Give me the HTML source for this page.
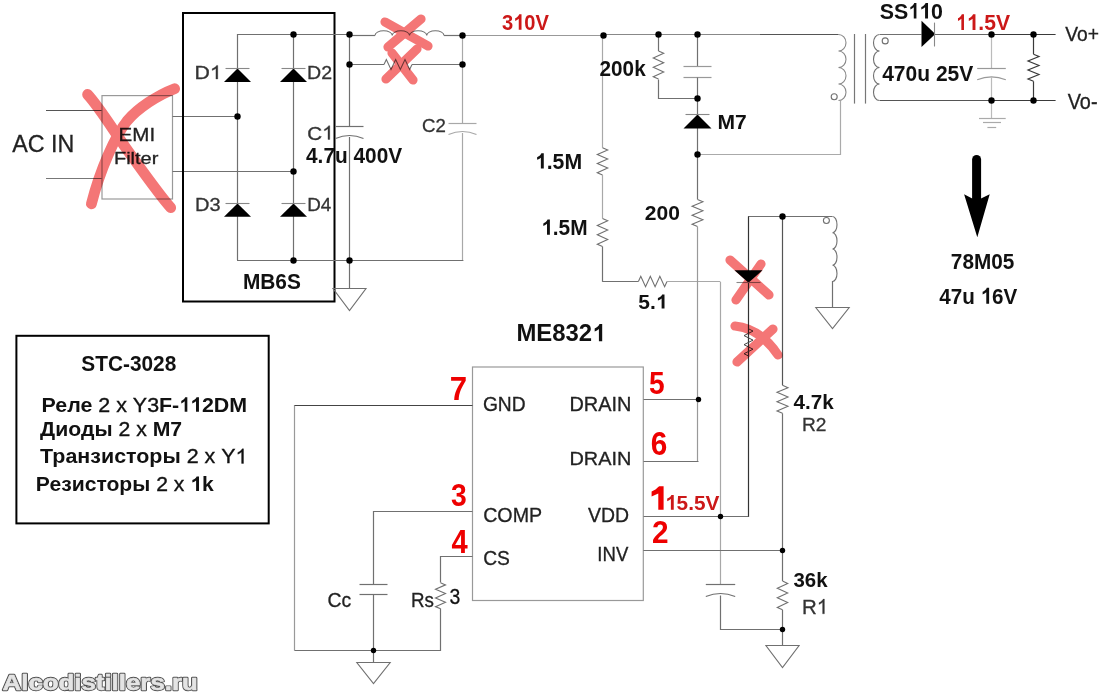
<!DOCTYPE html>
<html><head><meta charset="utf-8"><style>
html,body{margin:0;padding:0;background:#fff;}
svg{display:block;}
text{font-family:"Liberation Sans",sans-serif;}
.o{fill-opacity:0;stroke-opacity:0;}
</style></head><body>
<svg width="1115" height="698" viewBox="0 0 1115 698">
<rect width="1115" height="698" fill="#fff"/>
<line x1="46" y1="110.5" x2="102" y2="110.5" stroke="#555" stroke-width="1.2"/>
<line x1="46" y1="178.5" x2="102" y2="178.5" stroke="#777" stroke-width="1.2"/>
<rect x="102" y="95.6" width="70.5" height="103.4" fill="none" stroke="#999" stroke-width="1.2"/>
<text x="12.20" y="152.00" font-size="24.60" font-weight="normal" fill="#222" stroke="#222" stroke-width="0.3" textLength="62.10" lengthAdjust="spacingAndGlyphs">AC IN</text>
<text x="118.59" y="141.00" font-size="18.92" font-weight="normal" fill="#222" stroke="#222" stroke-width="0.3" textLength="36.56" lengthAdjust="spacingAndGlyphs">EMI</text>
<text x="113.94" y="164.00" font-size="16.75" font-weight="normal" fill="#222" stroke="#222" stroke-width="0.3" textLength="44.46" lengthAdjust="spacingAndGlyphs">Filter</text>
<line x1="172.5" y1="116.5" x2="237" y2="116.5" stroke="#707070" stroke-width="1.2"/>
<line x1="172.5" y1="171.5" x2="293" y2="171.5" stroke="#707070" stroke-width="1.2"/>
<rect x="183" y="13" width="151.5" height="288.5" fill="none" stroke="#000" stroke-width="2"/>
<line x1="237" y1="34.5" x2="293.7" y2="34.5" stroke="#707070" stroke-width="1.2"/>
<line x1="293.7" y1="34.5" x2="349.5" y2="34.5" stroke="#707070" stroke-width="1.2"/>
<line x1="237.5" y1="34" x2="237.5" y2="260" stroke="#707070" stroke-width="1.2"/>
<line x1="293.5" y1="34" x2="293.5" y2="260" stroke="#707070" stroke-width="1.2"/>
<line x1="237" y1="260.5" x2="463.4" y2="260.5" stroke="#707070" stroke-width="1.2"/>
<polygon points="224.0,82 251.0,82 237.5,68.4" fill="#000"/>
<line x1="225.5" y1="68.5" x2="249.5" y2="68.5" stroke="#888" stroke-width="1.1"/>
<polygon points="280.0,82 307.0,82 293.5,68.4" fill="#000"/>
<line x1="281.5" y1="68.5" x2="305.5" y2="68.5" stroke="#888" stroke-width="1.1"/>
<polygon points="224.0,216.7 251.0,216.7 237.5,203.4" fill="#000"/>
<line x1="225.5" y1="203.5" x2="249.5" y2="203.5" stroke="#888" stroke-width="1.1"/>
<polygon points="280.0,216.7 307.0,216.7 293.5,203.4" fill="#000"/>
<line x1="281.5" y1="203.5" x2="305.5" y2="203.5" stroke="#888" stroke-width="1.1"/>
<text id="q0" x="194.54" y="79.00" font-size="18.92" font-weight="normal" fill="#333" stroke="#333" stroke-width="0.3" textLength="27.16" lengthAdjust="spacingAndGlyphs">D<tspan class="o">1</tspan></text>
<text x="307.07" y="79.00" font-size="18.92" font-weight="normal" fill="#333" stroke="#333" stroke-width="0.3" textLength="25.02" lengthAdjust="spacingAndGlyphs">D2</text>
<text x="195.04" y="211.00" font-size="18.92" font-weight="normal" fill="#333" stroke="#333" stroke-width="0.3" textLength="25.57" lengthAdjust="spacingAndGlyphs">D3</text>
<text x="307.23" y="211.00" font-size="18.92" font-weight="normal" fill="#333" stroke="#333" stroke-width="0.3" textLength="24.04" lengthAdjust="spacingAndGlyphs">D4</text>
<text x="242.90" y="288.60" font-size="21.19" font-weight="bold" fill="#111" textLength="57.95" lengthAdjust="spacingAndGlyphs">MB6S</text>
<line x1="349.5" y1="34" x2="349.5" y2="126.8" stroke="#707070" stroke-width="1.2"/>
<line x1="335.5" y1="126.5" x2="363.5" y2="126.5" stroke="#707070" stroke-width="1.2"/>
<path d="M335.5,138.5 Q349.5,132.5 363.5,138.5" stroke="#707070" stroke-width="1.2" fill="none" />
<line x1="349.5" y1="137" x2="349.5" y2="288" stroke="#707070" stroke-width="1.2"/>
<polygon points="333.0,288.5 366.0,288.5 349.5,310.5" fill="none" stroke="#707070" stroke-width="1.1"/>
<text id="q1" x="307.23" y="139.50" font-size="19.20" font-weight="normal" fill="#333" stroke="#333" stroke-width="0.3" textLength="26.35" lengthAdjust="spacingAndGlyphs">C<tspan class="o">1</tspan></text>
<text x="306.00" y="163.30" font-size="22.61" font-weight="bold" fill="#111" textLength="96.20" lengthAdjust="spacingAndGlyphs">4.7u 400V</text>
<line x1="349.5" y1="35.5" x2="375" y2="35.5" stroke="#707070" stroke-width="1.2"/>
<path d="M375,35.5 a8.625,4.8 0 0 1 17.25,0 a8.625,4.8 0 0 1 17.25,0 a8.625,4.8 0 0 1 17.25,0 a8.625,4.8 0 0 1 17.25,0" stroke="#707070" stroke-width="1.1" fill="none" />
<line x1="444" y1="35.5" x2="462.8" y2="35.5" stroke="#707070" stroke-width="1.2"/>
<line x1="349.5" y1="64.5" x2="384" y2="64.5" stroke="#707070" stroke-width="1.2"/>
<polyline points="384,64.5 386.3333333333333,59.5 391.0,69.5 395.6666666666667,59.5 400.3333333333333,69.5 405.0,59.5 409.6666666666667,69.5 412,64.5" stroke="#707070" stroke-width="1.1" fill="none" stroke-linejoin="miter"/>
<line x1="412" y1="64.5" x2="462.8" y2="64.5" stroke="#707070" stroke-width="1.2"/>
<line x1="462.5" y1="35" x2="462.5" y2="123" stroke="#a8a8a8" stroke-width="1.2"/>
<line x1="448.5" y1="123.5" x2="476.5" y2="123.5" stroke="#a8a8a8" stroke-width="1.2"/>
<path d="M448.5,134.5 Q462.5,128.5 476.5,134.5" stroke="#a8a8a8" stroke-width="1.2" fill="none" />
<line x1="462.5" y1="133" x2="462.5" y2="260" stroke="#a8a8a8" stroke-width="1.2"/>
<text x="422.13" y="132.40" font-size="18.49" font-weight="normal" fill="#333" stroke="#333" stroke-width="0.3" textLength="23.83" lengthAdjust="spacingAndGlyphs">C2</text>
<line x1="462.8" y1="35.5" x2="603" y2="35.5" stroke="#999" stroke-width="1.2"/>
<line x1="603" y1="34.5" x2="760" y2="34.5" stroke="#888" stroke-width="1.2"/>
<line x1="760" y1="34.5" x2="838.6" y2="34.5" stroke="#555" stroke-width="1.2"/>
<text id="q2" x="501.89" y="29.70" font-size="21.33" font-weight="bold" fill="#cc1818" textLength="47.02" lengthAdjust="spacingAndGlyphs">3<tspan class="o">1</tspan>0V</text>
<line x1="602.5" y1="35" x2="602.5" y2="147.7" stroke="#a8a8a8" stroke-width="1.2"/>
<polyline points="602.5,147.7 607.7,149.96666666666667 597.3,154.5 607.7,159.03333333333333 597.3,163.56666666666666 607.7,168.1 597.3,172.63333333333333 602.5,174.9" stroke="#707070" stroke-width="1.1" fill="none" stroke-linejoin="miter"/>
<line x1="602.5" y1="174.9" x2="602.5" y2="218.4" stroke="#a8a8a8" stroke-width="1.2"/>
<polyline points="602.5,218.4 607.7,220.74166666666667 597.3,225.425 607.7,230.10833333333335 597.3,234.79166666666666 607.7,239.475 597.3,244.15833333333333 602.5,246.5" stroke="#707070" stroke-width="1.1" fill="none" stroke-linejoin="miter"/>
<line x1="602.5" y1="246.5" x2="602.5" y2="281.8" stroke="#707070" stroke-width="1.2"/>
<line x1="602.5" y1="281.5" x2="638.4" y2="281.5" stroke="#707070" stroke-width="1.2"/>
<polyline points="638.4,281.5 640.7833333333333,276.3 645.55,286.7 650.3166666666666,276.3 655.0833333333334,286.7 659.85,276.3 664.6166666666667,286.7 667,281.5" stroke="#707070" stroke-width="1.1" fill="none" stroke-linejoin="miter"/>
<line x1="667" y1="281.5" x2="720.2" y2="281.5" stroke="#a8a8a8" stroke-width="1.2"/>
<line x1="720.5" y1="281.8" x2="720.5" y2="584.4" stroke="#a8a8a8" stroke-width="1.2"/>
<text id="q3" x="534.90" y="168.60" font-size="21.19" font-weight="bold" fill="#111" textLength="47.20" lengthAdjust="spacingAndGlyphs"><tspan class="o">1</tspan>.5M</text>
<text id="q4" x="541.14" y="234.80" font-size="21.19" font-weight="bold" fill="#111" textLength="46.44" lengthAdjust="spacingAndGlyphs"><tspan class="o">1</tspan>.5M</text>
<text id="q5" x="638.27" y="308.50" font-size="19.34" font-weight="bold" fill="#111" textLength="29.12" lengthAdjust="spacingAndGlyphs">5.<tspan class="o">1</tspan></text>
<line x1="658.5" y1="34.5" x2="658.5" y2="51" stroke="#707070" stroke-width="1.2"/>
<polyline points="658.5,51 663.7,53.333333333333336 653.3,58.0 663.7,62.666666666666664 653.3,67.33333333333333 663.7,72.0 653.3,76.66666666666667 658.5,79" stroke="#707070" stroke-width="1.1" fill="none" stroke-linejoin="miter"/>
<polyline points="658.5,79.5 658.5,98.5 697.5,98.5" stroke="#707070" stroke-width="1.2" fill="none" stroke-linejoin="miter"/>
<text x="599.55" y="76.20" font-size="22.20" font-weight="bold" fill="#111" textLength="46.12" lengthAdjust="spacingAndGlyphs">200k</text>
<line x1="697.5" y1="34.3" x2="697.5" y2="66.3" stroke="#707070" stroke-width="1.2"/>
<line x1="683.5" y1="66.5" x2="711.5" y2="66.5" stroke="#999" stroke-width="1.2"/>
<line x1="683.5" y1="77.5" x2="711.5" y2="77.5" stroke="#999" stroke-width="1.2"/>
<line x1="697.5" y1="77.5" x2="697.5" y2="155" stroke="#707070" stroke-width="1.2"/>
<polygon points="683.5,128.4 711.5,128.4 697.5,114.5" fill="#000"/>
<line x1="685.5" y1="114.5" x2="709.5" y2="114.5" stroke="#888" stroke-width="1.1"/>
<text x="717.38" y="129.10" font-size="20.91" font-weight="bold" fill="#111" textLength="29.27" lengthAdjust="spacingAndGlyphs">M7</text>
<polyline points="697.5,154.5 840.5,154.5 840.5,100.5" stroke="#aaa" stroke-width="1.2" fill="none" stroke-linejoin="miter"/>
<line x1="697.5" y1="155" x2="697.5" y2="199.4" stroke="#707070" stroke-width="1.2"/>
<polyline points="697.5,199.4 702.9,201.66666666666669 692.1,206.2 702.9,210.73333333333335 692.1,215.26666666666665 702.9,219.8 692.1,224.33333333333331 697.5,226.6" stroke="#707070" stroke-width="1.1" fill="none" stroke-linejoin="miter"/>
<line x1="697.5" y1="226.6" x2="697.5" y2="461" stroke="#999" stroke-width="1.2"/>
<text x="644.74" y="219.80" font-size="20.05" font-weight="bold" fill="#111" textLength="35.11" lengthAdjust="spacingAndGlyphs">200</text>
<path d="M838.5,34.5 a7.5,8.25 0 0 1 0,16.5 a7.5,8.25 0 0 1 0,16.5 a7.5,8.25 0 0 1 0,16.5 a7.5,8.25 0 0 1 0,16.5" stroke="#888" stroke-width="1.1" fill="none" />
<circle cx="834.2" cy="96.7" r="3" fill="none" stroke="#707070" stroke-width="1.1"/>
<line x1="854.5" y1="34" x2="854.5" y2="103.6" stroke="#777" stroke-width="1.2"/>
<line x1="865.5" y1="34" x2="865.5" y2="103.6" stroke="#777" stroke-width="1.2"/>
<path d="M879.5,34.5 a6,8.25 0 0 0 0,16.5 a6,8.25 0 0 0 0,16.5 a6,8.25 0 0 0 0,16.5 a6,8.25 0 0 0 0,16.5" stroke="#707070" stroke-width="1.1" fill="none" />
<circle cx="885.2" cy="40.9" r="3" fill="none" stroke="#707070" stroke-width="1.1"/>
<line x1="879.7" y1="34.5" x2="921.5" y2="34.5" stroke="#707070" stroke-width="1.2"/>
<polygon points="921.5,20.7 921.5,47.1 935.3,33.9" fill="#000"/>
<line x1="934.5" y1="22.6" x2="934.5" y2="46.5" stroke="#888" stroke-width="1.1"/>
<line x1="935" y1="34.5" x2="991" y2="34.5" stroke="#666" stroke-width="1.2"/>
<line x1="991" y1="34.5" x2="1055.6" y2="34.5" stroke="#3a3a3a" stroke-width="1.2"/>
<line x1="879.7" y1="100.5" x2="991" y2="100.5" stroke="#555" stroke-width="1.2"/>
<line x1="991" y1="100.5" x2="1055.6" y2="100.5" stroke="#3a3a3a" stroke-width="1.2"/>
<line x1="991.5" y1="34" x2="991.5" y2="68.2" stroke="#bbb" stroke-width="1.2"/>
<line x1="977.2" y1="68.5" x2="1005.8" y2="68.5" stroke="#999" stroke-width="1.2"/>
<path d="M977.2,79.8 Q991.5,73.8 1005.8,79.8" stroke="#999" stroke-width="1.2" fill="none" />
<line x1="991.5" y1="77" x2="991.5" y2="118" stroke="#bbb" stroke-width="1.2"/>
<line x1="979" y1="118.5" x2="1005.7" y2="118.5" stroke="#aaa" stroke-width="1.2"/>
<line x1="983" y1="122.5" x2="1001" y2="122.5" stroke="#aaa" stroke-width="1.2"/>
<line x1="987.4" y1="127.5" x2="996.2" y2="127.5" stroke="#aaa" stroke-width="1.2"/>
<line x1="1033.5" y1="34" x2="1033.5" y2="54.2" stroke="#3a3a3a" stroke-width="1.2"/>
<polyline points="1033.5,54.2 1039.0,56.458333333333336 1028.0,60.975 1039.0,65.49166666666667 1028.0,70.00833333333333 1039.0,74.525 1028.0,79.04166666666666 1033.5,81.3" stroke="#3a3a3a" stroke-width="1.2" fill="none" stroke-linejoin="miter"/>
<line x1="1033.5" y1="81.3" x2="1033.5" y2="100.5" stroke="#3a3a3a" stroke-width="1.2"/>
<text id="q6" x="879.87" y="18.60" font-size="21.76" font-weight="bold" fill="#111" textLength="63.00" lengthAdjust="spacingAndGlyphs">SS<tspan class="o">1</tspan><tspan class="o">1</tspan>0</text>
<text id="q7" x="956.01" y="30.00" font-size="21.76" font-weight="bold" fill="#cc1818" textLength="54.09" lengthAdjust="spacingAndGlyphs"><tspan class="o">1</tspan><tspan class="o">1</tspan>.5V</text>
<text x="882.20" y="80.80" font-size="21.48" font-weight="bold" fill="#111" textLength="91.10" lengthAdjust="spacingAndGlyphs">470u 25V</text>
<text x="1065.20" y="40.90" font-size="20.20" font-weight="normal" fill="#222" stroke="#222" stroke-width="0.3" textLength="33.71" lengthAdjust="spacingAndGlyphs">Vo+</text>
<text x="1067.70" y="108.90" font-size="21.62" font-weight="normal" fill="#222" stroke="#222" stroke-width="0.3" textLength="29.82" lengthAdjust="spacingAndGlyphs">Vo-</text>
<path d="M976.6,159.5 L976.6,200" stroke="#000" stroke-width="9" fill="none" stroke-linecap="round"/>
<polygon points="964.1,194.3 972.2,198.6 981,198.6 989.7,194.3 977.3,237.3" fill="#000"/>
<text x="950.85" y="268.90" font-size="22.04" font-weight="bold" fill="#111" textLength="63.47" lengthAdjust="spacingAndGlyphs">78M05</text>
<text id="q8" x="939.20" y="303.70" font-size="22.33" font-weight="bold" fill="#111" textLength="78.00" lengthAdjust="spacingAndGlyphs">47u <tspan class="o">1</tspan>6V</text>
<line x1="748" y1="216.5" x2="832.4" y2="216.5" stroke="#707070" stroke-width="1.2"/>
<line x1="748.5" y1="216.4" x2="748.5" y2="517" stroke="#333" stroke-width="1.2"/>
<line x1="782.5" y1="216.4" x2="782.5" y2="385.3" stroke="#555" stroke-width="1.2"/>
<polyline points="782.5,385.3 788.0,387.6333333333333 777.0,392.3 788.0,396.9666666666667 777.0,401.6333333333333 788.0,406.3 777.0,410.9666666666667 782.5,413.3" stroke="#707070" stroke-width="1.1" fill="none" stroke-linejoin="miter"/>
<line x1="782.5" y1="413.3" x2="782.5" y2="581" stroke="#707070" stroke-width="1.2"/>
<polyline points="782.5,581 787.7,583.4 777.3,588.2 787.7,593.0 777.3,597.8 787.7,602.5999999999999 777.3,607.4 782.5,609.8" stroke="#707070" stroke-width="1.1" fill="none" stroke-linejoin="miter"/>
<line x1="782.5" y1="609.8" x2="782.5" y2="645.5" stroke="#707070" stroke-width="1.2"/>
<polygon points="765.9,645.5 799.1,645.5 782.5,667.7" fill="none" stroke="#707070" stroke-width="1.1"/>
<path d="M832.5,216.5 a4.5,8.125 0 0 1 0,16.25 a4.5,8.125 0 0 1 0,16.25 a4.5,8.125 0 0 1 0,16.25 a4.5,8.125 0 0 1 0,16.25" stroke="#707070" stroke-width="1.1" fill="none" />
<circle cx="826.4" cy="220.5" r="3" fill="none" stroke="#707070" stroke-width="1.1"/>
<line x1="832.5" y1="281" x2="832.5" y2="307.6" stroke="#707070" stroke-width="1.2"/>
<polygon points="815.8,307.5 849.2,307.5 832.5,328.7" fill="none" stroke="#707070" stroke-width="1.1"/>
<polygon points="734.5,270.3 762.5,270.3 748.5,282.8" fill="#000"/>
<line x1="736.5" y1="282.5" x2="760.5" y2="282.5" stroke="#888" stroke-width="1.1"/>
<polyline points="748.5,328.8 753.0,331.06666666666666 744.0,335.6 753.0,340.1333333333333 744.0,344.6666666666667 753.0,349.2 744.0,353.73333333333335 748.5,356" stroke="#444" stroke-width="1.0" fill="none" stroke-linejoin="miter"/>
<text x="793.50" y="408.70" font-size="21.11" font-weight="bold" fill="#111" textLength="40.17" lengthAdjust="spacingAndGlyphs">4.7k</text>
<text x="802.00" y="430.50" font-size="19.06" font-weight="normal" fill="#333" stroke="#333" stroke-width="0.3" textLength="24.47" lengthAdjust="spacingAndGlyphs">R2</text>
<text x="793.48" y="587.00" font-size="20.97" font-weight="bold" fill="#111" textLength="34.09" lengthAdjust="spacingAndGlyphs">36k</text>
<text id="q9" x="802.00" y="613.80" font-size="20.48" font-weight="normal" fill="#333" stroke="#333" stroke-width="0.3" textLength="26.15" lengthAdjust="spacingAndGlyphs">R<tspan class="o">1</tspan></text>
<rect x="472.5" y="367" width="170.8" height="233.5" fill="none" stroke="#999" stroke-width="1.2"/>
<text id="q10" x="516.40" y="341.20" font-size="23.75" font-weight="bold" fill="#111" textLength="89.10" lengthAdjust="spacingAndGlyphs">ME832<tspan class="o">1</tspan></text>
<polyline points="294.5,650.5 294.5,405.5 472.5,405.5" stroke="#999" stroke-width="1.2" fill="none" stroke-linejoin="miter"/>
<line x1="294.7" y1="405.5" x2="472.5" y2="405.5" stroke="#444" stroke-width="1.2"/>
<polyline points="294.5,650.5 440.5,650.5 440.5,608.5" stroke="#707070" stroke-width="1.2" fill="none" stroke-linejoin="miter"/>
<polyline points="440.5,582.7 445.5,584.875 435.5,589.225 445.5,593.575 435.5,597.925 445.5,602.275 435.5,606.625 440.5,608.8" stroke="#707070" stroke-width="1.1" fill="none" stroke-linejoin="miter"/>
<polyline points="440.5,582.5 440.5,556.5 472.5,556.5" stroke="#707070" stroke-width="1.2" fill="none" stroke-linejoin="miter"/>
<polyline points="472.5,511.5 373.5,511.5 373.5,584.5" stroke="#707070" stroke-width="1.2" fill="none" stroke-linejoin="miter"/>
<line x1="359.5" y1="584.5" x2="387.5" y2="584.5" stroke="#707070" stroke-width="1.2"/>
<line x1="359.5" y1="594.5" x2="387.5" y2="594.5" stroke="#707070" stroke-width="1.2"/>
<line x1="373.5" y1="594.7" x2="373.5" y2="662.7" stroke="#707070" stroke-width="1.2"/>
<polygon points="356.8,662.5 390.2,662.5 373.5,683.7" fill="none" stroke="#707070" stroke-width="1.1"/>
<polyline points="643.5,399.5 698.5,399.5" stroke="#707070" stroke-width="1.2" fill="none" stroke-linejoin="miter"/>
<polyline points="643.5,461.5 698.5,461.5" stroke="#707070" stroke-width="1.2" fill="none" stroke-linejoin="miter"/>
<polyline points="643.5,516.5 748.5,516.5" stroke="#707070" stroke-width="1.2" fill="none" stroke-linejoin="miter"/>
<line x1="643.3" y1="550.5" x2="782.2" y2="550.5" stroke="#707070" stroke-width="1.2"/>
<line x1="705.8" y1="584.5" x2="735.2" y2="584.5" stroke="#707070" stroke-width="1.2"/>
<path d="M705.8,596.5 Q720.5,590.5 735.2,596.5" stroke="#707070" stroke-width="1.2" fill="none" />
<polyline points="720.5,595.5 720.5,629.5 782.5,629.5" stroke="#707070" stroke-width="1.2" fill="none" stroke-linejoin="miter"/>
<text x="482.90" y="410.50" font-size="19.48" font-weight="normal" fill="#222" stroke="#222" stroke-width="0.3" textLength="42.77" lengthAdjust="spacingAndGlyphs">GND</text>
<text x="569.45" y="410.50" font-size="19.63" font-weight="normal" fill="#222" stroke="#222" stroke-width="0.3" textLength="61.88" lengthAdjust="spacingAndGlyphs">DRAIN</text>
<text x="569.45" y="465.30" font-size="19.20" font-weight="normal" fill="#222" stroke="#222" stroke-width="0.3" textLength="61.88" lengthAdjust="spacingAndGlyphs">DRAIN</text>
<text x="483.18" y="522.20" font-size="20.48" font-weight="normal" fill="#222" stroke="#222" stroke-width="0.3" textLength="58.95" lengthAdjust="spacingAndGlyphs">COMP</text>
<text x="483.20" y="565.00" font-size="20.91" font-weight="normal" fill="#222" stroke="#222" stroke-width="0.3" textLength="26.71" lengthAdjust="spacingAndGlyphs">CS</text>
<text x="588.00" y="522.30" font-size="20.48" font-weight="normal" fill="#222" stroke="#222" stroke-width="0.3" textLength="41.07" lengthAdjust="spacingAndGlyphs">VDD</text>
<text x="597.35" y="560.80" font-size="20.34" font-weight="normal" fill="#222" stroke="#222" stroke-width="0.3" textLength="30.96" lengthAdjust="spacingAndGlyphs">INV</text>
<text x="327.59" y="606.50" font-size="20.48" font-weight="normal" fill="#222" stroke="#222" stroke-width="0.3" textLength="23.71" lengthAdjust="spacingAndGlyphs">Cc</text>
<text x="410.93" y="606.50" font-size="20.48" font-weight="normal" fill="#222" stroke="#222" stroke-width="0.3" textLength="22.95" lengthAdjust="spacingAndGlyphs">Rs</text>
<text x="449.39" y="603.90" font-size="21.33" font-weight="normal" fill="#111" stroke="#111" stroke-width="0.3" textLength="10.79" lengthAdjust="spacingAndGlyphs">3</text>
<text x="449.83" y="399.50" font-size="33.00" font-weight="bold" fill="#ee0000" textLength="17.34" lengthAdjust="spacingAndGlyphs">7</text>
<text x="649.06" y="394.00" font-size="32.14" font-weight="bold" fill="#ee0000" textLength="15.64" lengthAdjust="spacingAndGlyphs">5</text>
<text x="650.87" y="454.50" font-size="32.43" font-weight="bold" fill="#ee0000" textLength="16.57" lengthAdjust="spacingAndGlyphs">6</text>
<text x="450.96" y="506.30" font-size="32.28" font-weight="bold" fill="#ee0000" textLength="15.75" lengthAdjust="spacingAndGlyphs">3</text>
<text x="451.40" y="552.60" font-size="33.00" font-weight="bold" fill="#ee0000" textLength="16.21" lengthAdjust="spacingAndGlyphs">4</text>
<polygon points="659.3,486.3 663.6,486.3 663.6,509.8 658.3,509.8 658.3,493.6 651.6,496.6 651.6,491.6 655.5,489.4 658.2,486.9" fill="#ee0000"/>
<text id="q11" x="665.05" y="509.70" font-size="20.62" font-weight="bold" fill="#cc1818" textLength="54.35" lengthAdjust="spacingAndGlyphs"><tspan class="o">1</tspan>5.5V</text>
<text x="652.07" y="543.30" font-size="32.14" font-weight="bold" fill="#ee0000" textLength="16.57" lengthAdjust="spacingAndGlyphs">2</text>
<rect x="16.4" y="335.8" width="252.3" height="187.6" fill="none" stroke="#000" stroke-width="2"/>
<text x="81.27" y="371.10" font-size="21.62" font-weight="bold" fill="#111" textLength="95.05" lengthAdjust="spacingAndGlyphs">STC-3028</text>
<text id="q12" x="41.56" y="411.8" font-size="20.3" fill="#111" textLength="205.55" lengthAdjust="spacingAndGlyphs" xml:space="preserve"><tspan font-weight="bold">Реле </tspan><tspan font-weight="normal" stroke="#111" stroke-width="0.35">2 х Y3</tspan><tspan font-weight="bold">F-<tspan class="o">1</tspan><tspan class="o">1</tspan>2DM</tspan></text>
<text x="40.10" y="436.1" font-size="20.3" fill="#111" textLength="142.06" lengthAdjust="spacingAndGlyphs" xml:space="preserve"><tspan font-weight="bold">Диоды </tspan><tspan font-weight="normal" stroke="#111" stroke-width="0.35">2 х </tspan><tspan font-weight="bold">М7</tspan></text>
<text id="q13" x="40.10" y="463.4" font-size="20.3" fill="#111" textLength="207.33" lengthAdjust="spacingAndGlyphs" xml:space="preserve"><tspan font-weight="bold">Транзисторы </tspan><tspan font-weight="normal" stroke="#111" stroke-width="0.35">2 х Y<tspan class="o">1</tspan></tspan></text>
<text id="q14" x="35.88" y="491" font-size="20.3" fill="#111" textLength="177.79" lengthAdjust="spacingAndGlyphs" xml:space="preserve"><tspan font-weight="bold">Резисторы </tspan><tspan font-weight="normal" stroke="#111" stroke-width="0.35">2 х </tspan><tspan font-weight="bold"><tspan class="o">1</tspan>k</tspan></text>
<text x="2.60" y="689.70" font-size="22.4" font-weight="bold" fill="#e4e4e4" stroke="#505050" stroke-width="2.4" stroke-linejoin="round" textLength="195.16" lengthAdjust="spacingAndGlyphs">Alcodistillers.ru</text>
<text x="2.60" y="689.70" font-size="22.4" font-weight="bold" fill="#e4e4e4" stroke="#e4e4e4" stroke-width="0.6" stroke-linejoin="round" textLength="195.16" lengthAdjust="spacingAndGlyphs">Alcodistillers.ru</text>
<path d="M763,0 L583,0 L583,1147 Q518,1085 412,1023 Q306,961 222,930 L222,1104 Q373,1175 486,1276 Q599,1377 646,1472 L763,1472 Z" fill="#333" stroke="#333" stroke-width="32.5" transform="translate(209.88,79.00) scale(0.01037,-0.00924)"/>
<path d="M763,0 L583,0 L583,1147 Q518,1085 412,1023 Q306,961 222,930 L222,1104 Q373,1175 486,1276 Q599,1377 646,1472 L763,1472 Z" fill="#333" stroke="#333" stroke-width="32.0" transform="translate(322.12,139.50) scale(0.01006,-0.00938)"/>
<path d="M856,0 L575,0 L575,1059 Q421,915 212,846 L212,1101 Q322,1137 451,1237 Q580,1337 628,1472 L856,1472 Z" fill="#cc1818" transform="translate(513.09,29.70) scale(0.00984,-0.01042)"/>
<path d="M856,0 L575,0 L575,1059 Q421,915 212,846 L212,1101 Q322,1137 451,1237 Q580,1337 628,1472 L856,1472 Z" fill="#111" transform="translate(534.90,168.60) scale(0.01037,-0.01035)"/>
<path d="M856,0 L575,0 L575,1059 Q421,915 212,846 L212,1101 Q322,1137 451,1237 Q580,1337 628,1472 L856,1472 Z" fill="#111" transform="translate(541.14,234.80) scale(0.01021,-0.01035)"/>
<path d="M856,0 L575,0 L575,1059 Q421,915 212,846 L212,1101 Q322,1137 451,1237 Q580,1337 628,1472 L856,1472 Z" fill="#111" transform="translate(655.74,308.50) scale(0.01023,-0.00944)"/>
<path d="M856,0 L575,0 L575,1059 Q421,915 212,846 L212,1101 Q322,1137 451,1237 Q580,1337 628,1472 L856,1472 Z" fill="#111" transform="translate(908.37,18.60) scale(0.00940,-0.01063)"/>
<path d="M856,0 L575,0 L575,1059 Q421,915 212,846 L212,1101 Q322,1137 451,1237 Q580,1337 628,1472 L856,1472 Z" fill="#111" transform="translate(919.08,18.60) scale(0.01044,-0.01063)"/>
<path d="M856,0 L575,0 L575,1059 Q421,915 212,846 L212,1101 Q322,1137 451,1237 Q580,1337 628,1472 L856,1472 Z" fill="#cc1818" transform="translate(956.01,30.00) scale(0.00930,-0.01063)"/>
<path d="M856,0 L575,0 L575,1059 Q421,915 212,846 L212,1101 Q322,1137 451,1237 Q580,1337 628,1472 L856,1472 Z" fill="#cc1818" transform="translate(966.61,30.00) scale(0.01033,-0.01063)"/>
<path d="M856,0 L575,0 L575,1059 Q421,915 212,846 L212,1101 Q322,1137 451,1237 Q580,1337 628,1472 L856,1472 Z" fill="#111" transform="translate(980.49,303.70) scale(0.01008,-0.01090)"/>
<path d="M763,0 L583,0 L583,1147 Q518,1085 412,1023 Q306,961 222,930 L222,1104 Q373,1175 486,1276 Q599,1377 646,1472 L763,1472 Z" fill="#333" stroke="#333" stroke-width="30.0" transform="translate(816.78,613.80) scale(0.00999,-0.01000)"/>
<path d="M856,0 L575,0 L575,1059 Q421,915 212,846 L212,1101 Q322,1137 451,1237 Q580,1337 628,1472 L856,1472 Z" fill="#111" transform="translate(592.19,341.20) scale(0.01169,-0.01160)"/>
<path d="M856,0 L575,0 L575,1059 Q421,915 212,846 L212,1101 Q322,1137 451,1237 Q580,1337 628,1472 L856,1472 Z" fill="#cc1818" transform="translate(665.05,509.70) scale(0.01016,-0.01007)"/>
<path d="M856,0 L575,0 L575,1059 Q421,915 212,846 L212,1101 Q322,1137 451,1237 Q580,1337 628,1472 L856,1472 Z" fill="#111" transform="translate(179.27,411.80) scale(0.00942,-0.00991)"/>
<path d="M856,0 L575,0 L575,1059 Q421,915 212,846 L212,1101 Q322,1137 451,1237 Q580,1337 628,1472 L856,1472 Z" fill="#111" transform="translate(190.01,411.80) scale(0.01045,-0.00991)"/>
<path d="M763,0 L583,0 L583,1147 Q518,1085 412,1023 Q306,961 222,930 L222,1104 Q373,1175 486,1276 Q599,1377 646,1472 L763,1472 Z" fill="#111" stroke="#111" stroke-width="35.3" transform="translate(235.51,463.40) scale(0.01046,-0.00991)"/>
<path d="M856,0 L575,0 L575,1059 Q421,915 212,846 L212,1101 Q322,1137 451,1237 Q580,1337 628,1472 L856,1472 Z" fill="#111" transform="translate(190.18,491.00) scale(0.01031,-0.00991)"/>
<circle cx="293.5" cy="34.5" r="3.2" fill="#000"/>
<circle cx="237.5" cy="116.5" r="3.2" fill="#000"/>
<circle cx="293.5" cy="171.5" r="3.2" fill="#000"/>
<circle cx="293.5" cy="260.5" r="3.2" fill="#000"/>
<circle cx="349.5" cy="34.5" r="3.2" fill="#000"/>
<circle cx="349.5" cy="64.5" r="3.2" fill="#000"/>
<circle cx="349.5" cy="260.5" r="3.2" fill="#000"/>
<circle cx="462.5" cy="35.5" r="3.2" fill="#000"/>
<circle cx="462.5" cy="64.5" r="3.2" fill="#000"/>
<circle cx="603.5" cy="35.5" r="3.2" fill="#000"/>
<circle cx="658.5" cy="34.5" r="3.2" fill="#000"/>
<circle cx="697.5" cy="34.5" r="3.2" fill="#000"/>
<circle cx="697.5" cy="98.5" r="3.2" fill="#000"/>
<circle cx="697.5" cy="154.5" r="3.2" fill="#000"/>
<circle cx="698.5" cy="399.5" r="2.7" fill="#000"/>
<circle cx="991.5" cy="34.5" r="3.2" fill="#000"/>
<circle cx="1033.5" cy="34.5" r="3.2" fill="#000"/>
<circle cx="991.5" cy="100.5" r="3.2" fill="#000"/>
<circle cx="1033.5" cy="100.5" r="3.2" fill="#000"/>
<circle cx="782.5" cy="216.5" r="3.2" fill="#000"/>
<circle cx="373.5" cy="650.5" r="2.7" fill="#000"/>
<circle cx="720.5" cy="516.5" r="2.7" fill="#000"/>
<circle cx="782.5" cy="550.5" r="2.7" fill="#000"/>
<circle cx="782.5" cy="629.5" r="2.7" fill="#000"/>
<g style="mix-blend-mode:multiply">
<path d="M87.6,94.5 C100,108 115,133 128,151 S160,196 170.7,207.7" stroke="#f47676" stroke-width="10.8" fill="none" stroke-linecap="round" stroke-linejoin="round"/>
<path d="M174.6,88.7 C158,95 138,108 127,121 C115,136 100,170 91.4,203.8" stroke="#f47676" stroke-width="10.8" fill="none" stroke-linecap="round" stroke-linejoin="round"/>
<path d="M385,22 L428,46" stroke="#f47676" stroke-width="9.2" fill="none" stroke-linecap="round" stroke-linejoin="round"/>
<path d="M421,19 L388,47" stroke="#f47676" stroke-width="9.2" fill="none" stroke-linecap="round" stroke-linejoin="round"/>
<path d="M392,53 L413,80" stroke="#f47676" stroke-width="9.2" fill="none" stroke-linecap="round" stroke-linejoin="round"/>
<path d="M417,49 L386,79" stroke="#f47676" stroke-width="9.2" fill="none" stroke-linecap="round" stroke-linejoin="round"/>
<path d="M730,260 L769,295" stroke="#f47676" stroke-width="9.2" fill="none" stroke-linecap="round" stroke-linejoin="round"/>
<path d="M761,264 L736,300" stroke="#f47676" stroke-width="9.2" fill="none" stroke-linecap="round" stroke-linejoin="round"/>
<path d="M735,326 C755,328 768,340 778,355" stroke="#f47676" stroke-width="9.2" fill="none" stroke-linecap="round" stroke-linejoin="round"/>
<path d="M773,329 L737,362" stroke="#f47676" stroke-width="9.2" fill="none" stroke-linecap="round" stroke-linejoin="round"/>
</g>
</svg>
</body></html>
